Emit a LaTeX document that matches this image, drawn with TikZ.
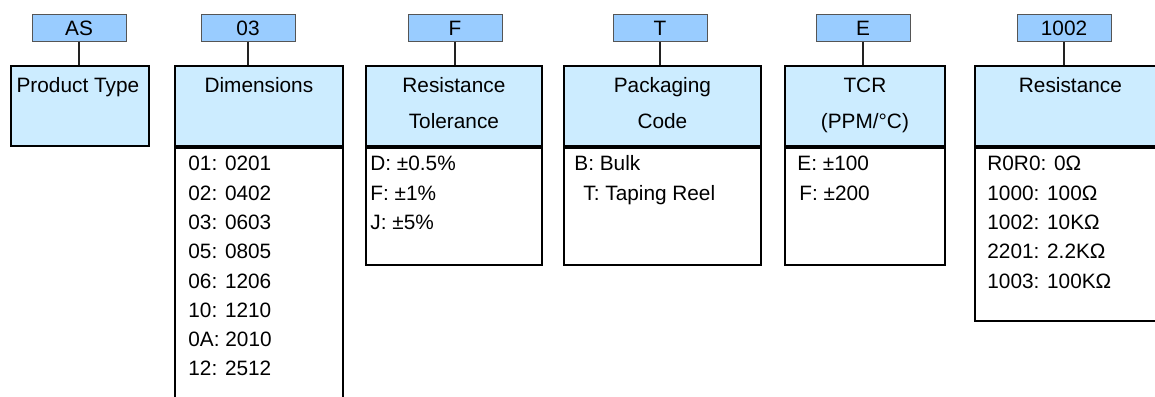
\documentclass[tikz,border=0pt]{standalone}
\usepackage{fontspec}
\setmainfont{Liberation Sans}
\usetikzlibrary{calc}

\begin{document}
\begin{tikzpicture}[x=0.5pt, y=-0.5pt,
    textFont/.style={font=\fontsize{10.4}{12}\selectfont, inner sep=0pt},
    codeBox/.style={draw=tagBorder, fill=tagColour, line width=0.5pt, minimum width=47pt, minimum height=13.5pt, inner sep=0pt, text height=7.5pt, text depth=0pt, font=\fontsize{10.4}{12}\selectfont},
    headBox/.style={draw=borderColour, fill=headColour, line width=0.9pt, minimum height=40pt, inner sep=0pt, anchor=north west},
    listBox/.style={draw=borderColour, fill=white, line width=0.9pt, inner sep=0pt, anchor=north},
    stem/.style={draw=stemColour, line width=0.6pt}]
    % Define colors
    \definecolor{borderColour}{HTML}{000000}
    \definecolor{headColour}{HTML}{CCECFF}
    \definecolor{tagColour}{HTML}{99CCFF}
    \definecolor{tagBorder}{HTML}{555555}
    \definecolor{stemColour}{HTML}{222222}

    % Fix the page size
    \path[use as bounding box, clip] (0,0) rectangle (1155,396);

    % Product type
    \node[headBox, minimum width=69pt] (type-head) at (10,65) {};
    \node[codeBox] (type-code) at (79,27.5) {AS};
    \draw[stem] (type-code.south) -- (type-code.south |- type-head.north);
    \node[textFont, anchor=base] (type-title) at ($(type-head.north)+(-2,27)$) {Product Type};

    % Dimensions
    \node[headBox, minimum width=84pt] (dim-head) at (174,65) {};
    \node[listBox, minimum width=84pt, minimum height=140pt] (dim-list) at (dim-head.south) {};
    \node[codeBox] (dim-code) at (248,27.5) {03};
    \draw[stem] (dim-code.south) -- (dim-code.south |- dim-head.north);
    \node[textFont, anchor=base] (dim-title) at ($(dim-head.north)+(0,27)$) {Dimensions};
    \foreach \entry [count=\i from 0] in {01: 0201, 02: 0402, 03: 0603, 05: 0805, 06: 1206, 10: 1210, 0A: 2010, 12: 2512}
        \node[textFont, anchor=base west] (dim-\i) at ($(dim-head.south west)+(14,{24+29.3*\i})$) {\entry};

    % Resistance tolerance
    \node[headBox, minimum width=88pt] (tol-head) at (365,65) {};
    \node[listBox, minimum width=88pt, minimum height=58.5pt] (tol-list) at (tol-head.south) {};
    \node[codeBox] (tol-code) at (455,27.5) {F};
    \draw[stem] (tol-code.south) -- (tol-code.south |- tol-head.north);
    \node[textFont, anchor=base] (tol-title1) at ($(tol-head.north)+(0,27)$) {Resistance};
    \node[textFont, anchor=base] (tol-title2) at ($(tol-head.north)+(0,63)$) {Tolerance};
    \foreach \entry [count=\i from 0] in {D: ±0.5\%, F: ±1\%, J: ±5\%}
        \node[textFont, anchor=base west] (tol-\i) at ($(tol-head.south west)+(5,{24+29.3*\i})$) {\entry};

    % Packaging code
    \node[headBox, minimum width=98.5pt] (pack-head) at (563,65) {};
    \node[listBox, minimum width=98.5pt, minimum height=58.5pt] (pack-list) at (pack-head.south) {};
    \node[codeBox] (pack-code) at (660,27.5) {T};
    \draw[stem] (pack-code.south) -- (pack-code.south |- pack-head.north);
    \node[textFont, anchor=base] (pack-title1) at ($(pack-head.north)+(0,27)$) {Packaging};
    \node[textFont, anchor=base] (pack-title2) at ($(pack-head.north)+(0,63)$) {Code};
    \foreach \dx/\entry [count=\i from 0] in {11/B: Bulk, 20/T: Taping Reel}
        \node[textFont, anchor=base west] (pack-\i) at ($(pack-head.south west)+(\dx,{24+29.3*\i})$) {\entry};

    % TCR
    \node[headBox, minimum width=80pt] (tcr-head) at (784,65) {};
    \node[listBox, minimum width=80pt, minimum height=58.5pt] (tcr-list) at (tcr-head.south) {};
    \node[codeBox] (tcr-code) at (863,27.5) {E};
    \draw[stem] (tcr-code.south) -- (tcr-code.south |- tcr-head.north);
    \node[textFont, anchor=base] (tcr-title1) at ($(tcr-head.north)+(0,27)$) {TCR};
    \node[textFont, anchor=base] (tcr-title2) at ($(tcr-head.north)+(0,63)$) {(PPM/°C)};
    \foreach \dx/\entry [count=\i from 0] in {13/E: ±100, 15/F: ±200}
        \node[textFont, anchor=base west] (tcr-\i) at ($(tcr-head.south west)+(\dx,{24+29.3*\i})$) {\entry};

    % Resistance
    \node[headBox, minimum width=95.5pt] (res-head) at (974,65) {};
    \node[listBox, minimum width=95.5pt, minimum height=86.5pt] (res-list) at (res-head.south) {};
    \node[codeBox] (res-code) at (1064,27.5) {1002};
    \draw[stem] (res-code.south) -- (res-code.south |- res-head.north);
    \node[textFont, anchor=base] (res-title) at ($(res-head.north)+(0,27)$) {Resistance};
    \foreach \entry [count=\i from 0] in {R0R0: 0Ω, 1000: 100Ω, 1002: 10KΩ, 2201: 2.2KΩ, 1003: 100KΩ}
        \node[textFont, anchor=base west] (res-\i) at ($(res-head.south west)+(13,{24+29.3*\i})$) {\entry};

\end{tikzpicture}
\end{document}
